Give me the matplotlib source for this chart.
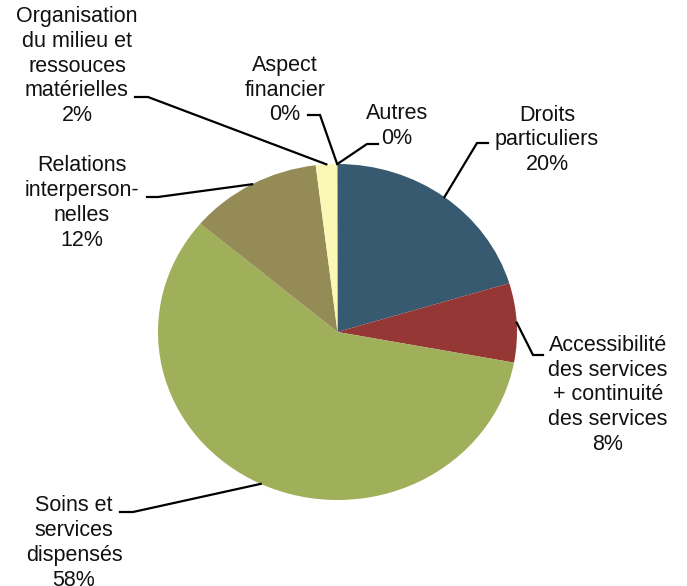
import matplotlib
matplotlib.use("Agg")
import matplotlib.pyplot as plt
import numpy as np

categories = ["Droits\nparticuliers",
              "Accessibilité\ndes services\n+ continuité\ndes services",
              "Soins et\nservices\ndispensés",
              "Relations\ninterperson-\nnelles",
              "Organisation\ndu milieu et\nressouces\nmatérielles",
              "Aspect\nfinancier",
              "Autres"]
values = [20.3, 7.6, 58.2, 11.9, 1.9, 0.02, 0.02]
pct_labels = ["20%", "8%", "58%", "12%", "2%", "0%", "0%"]
colors = ["#375A71", "#953735", "#A0AF5A", "#958B56", "#FBF8B6", "#FBF8B6", "#375A71"]

# layout (image pixel coordinates, y downward)
W, H = 687, 586
cx, cy, rx, ry = 337.5, 332, 179.5, 168
label_pos = [(547, 140), (608, 395), (74, 543), (82, 203), (77, 66), (285, 90), (397, 126)]
leader_pts = [[(488, 143), (477, 143)],
              [(543, 355), (533, 355)],
              [(120, 512), (133, 512)],
              [(147, 197), (158, 197)],
              [(135, 97), (148, 97)],
              [(308, 115), (320, 115)],
              [(378, 144), (367, 144)]]

plt.rcParams['font.family'] = ['Liberation Sans', 'DejaVu Sans']
fig = plt.figure(figsize=(W / 100, H / 100), dpi=100)
ax = fig.add_axes([(cx - rx) / W, (H - cy - ry) / H, 2 * rx / W, 2 * ry / H])
wedges, _ = ax.pie(values, colors=colors, startangle=90, counterclock=False,
                   radius=1, wedgeprops=dict(linewidth=0))
for w in wedges:
    w.set_clip_on(False)
ax.set_xlim(-1, 1)
ax.set_ylim(-1, 1)
ax.set_aspect('auto')
ax.axis('off')

inv = ax.transData.inverted()


def to_data(p):
    return inv.transform((p[0], H - p[1]))


for w, cat, pct, (tx, ty), pts in zip(wedges, categories, pct_labels, label_pos, leader_pts):
    fig.text(tx / W, 1 - ty / H, cat + "\n" + pct, ha='center', va='center',
             multialignment='center', fontsize=15.5, linespacing=1.24, color='#111111')
    th = np.deg2rad((w.theta1 + w.theta2) / 2)
    edge = (np.cos(th), np.sin(th))
    p0 = to_data(pts[0])
    p1 = to_data(pts[1])
    ax.plot([p0[0], p1[0], edge[0]], [p0[1], p1[1], edge[1]], color='black',
            lw=1.6, clip_on=False, solid_joinstyle='miter')

fig.savefig("out.png", dpi=100)
